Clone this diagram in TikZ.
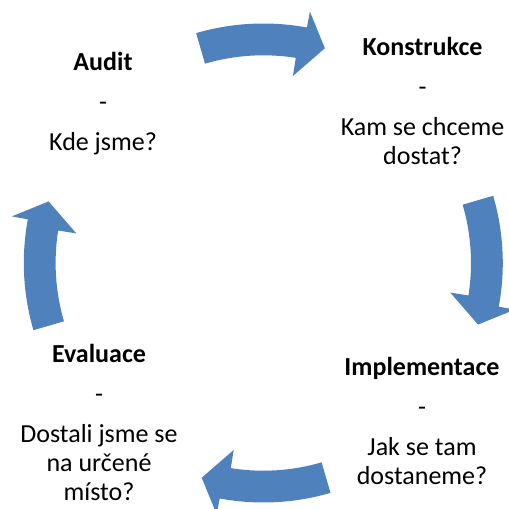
\documentclass[tikz,border=0pt]{standalone}
\usepackage{fontspec}
\setmainfont{Carlito}
\usepackage{tikz}
\definecolor{cycleblue}{RGB}{79,129,189}
\tikzstyle{stage} = [align=center, inner sep=0pt, anchor=base, font=\fontsize{26}{29}\selectfont]
\tikzstyle{cyclearrow} = [fill=cycleblue, shift={(263.3,246)}]

\begin{document}
\begin{tikzpicture}[x=1pt, y=1pt]
    \useasboundingbox (0,0) rectangle (509,509);

    % Stages of the cycle (anchored at the baseline of the last line)
    \node[stage] (audit) at (103, 358) {\textbf{Audit}\\[11pt]-\\[11pt]Kde jsme?};
    \node[stage] (konstrukce) at (422.5, 344) {\textbf{Konstrukce}\\[11pt]-\\[11pt]Kam se chceme\\dostat?};
    \node[stage] (implementace) at (422, 24.7) {\textbf{Implementace}\\[11pt]-\\[11pt]Jak se tam\\dostaneme?};
    \node[stage] (evaluace) at (99, 9) {\textbf{Evaluace}\\[11pt]-\\[11pt]Dostali jsme se\\na určené\\místo?};

    % Curved block arrows (top, right, bottom, left)
    \fill[cyclearrow, rotate=0] (106.3:239.5) arc[start angle=106.3, end angle=79.5, radius=239.5] -- (79.5:255.7) -- (74:223.4) -- (81:189.3) -- (81:207.7) arc[start angle=81, end angle=106.3, radius=207.7] -- cycle;
    \fill[cyclearrow, rotate=-90] (106.3:239.5) arc[start angle=106.3, end angle=79.5, radius=239.5] -- (79.5:255.7) -- (74:223.4) -- (81:189.3) -- (81:207.7) arc[start angle=81, end angle=106.3, radius=207.7] -- cycle;
    \fill[cyclearrow, rotate=-180] (106.3:239.5) arc[start angle=106.3, end angle=79.5, radius=239.5] -- (79.5:255.7) -- (74:223.4) -- (81:189.3) -- (81:207.7) arc[start angle=81, end angle=106.3, radius=207.7] -- cycle;
    \fill[cyclearrow, rotate=-270] (106.3:239.5) arc[start angle=106.3, end angle=79.5, radius=239.5] -- (79.5:255.7) -- (74:223.4) -- (81:189.3) -- (81:207.7) arc[start angle=81, end angle=106.3, radius=207.7] -- cycle;
\end{tikzpicture}
\end{document}
